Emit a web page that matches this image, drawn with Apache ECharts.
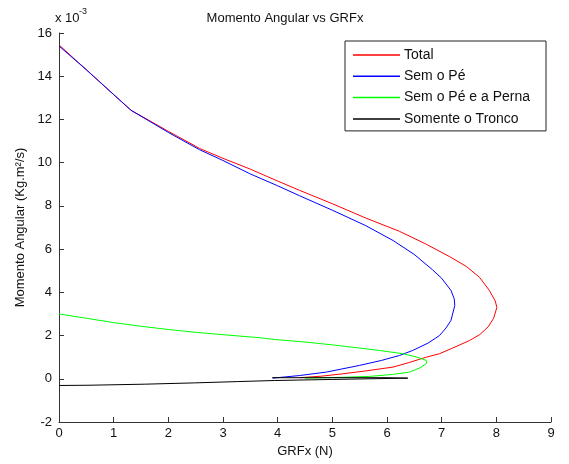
<!DOCTYPE html>
<html>
<head>
<meta charset="utf-8">
<script src="https://cdn.jsdelivr.net/npm/echarts@6/dist/echarts.min.js"></script>
<style>html,body{margin:0;padding:0;background:#fff}#c{width:569px;height:464px}</style>
</head>
<body>
<div id="c"></div>
<script>
// Data (y values in units of 1e-3 Kg.m^2/s)
var seriesNames = ['Total', 'Sem o Pé', 'Sem o Pé e a Perna', 'Somente o Tronco'];
var totalData = [[0,15.45],[0.5,14.3],[1.0,13.15],[1.32,12.42],[2.0,11.45],[2.57,10.66],[3.0,10.2],[3.5,9.7],[4.0,9.15],[4.4,8.72],[5.0,8.1],[5.6,7.45],[6.23,6.82],[6.7,6.25],[7.14,5.66],[7.45,5.2],[7.69,4.7],[7.87,4.1],[7.98,3.6],[8.01,3.3],[7.95,2.8],[7.85,2.4],[7.7,2.05],[7.51,1.77],[7.2,1.42],[6.96,1.16],[6.72,1.0],[6.4,0.75],[6.11,0.54],[5.6,0.36],[5.19,0.23],[4.8,0.12],[4.4,0.05]];
var semPeData = [[0,15.4],[0.5,14.3],[1.0,13.15],[1.32,12.42],[2.0,11.4],[2.57,10.6],[3.0,10.1],[3.49,9.49],[4.0,8.93],[4.4,8.47],[5.0,7.8],[5.6,7.1],[6.11,6.4],[6.5,5.75],[6.83,5.05],[7.0,4.65],[7.17,4.09],[7.23,3.7],[7.24,3.39],[7.2,3.0],[7.17,2.7],[7.08,2.35],[6.96,2.0],[6.75,1.65],[6.47,1.31],[6.23,1.08],[5.9,0.85],[5.5,0.62],[4.89,0.31],[4.4,0.15],[3.91,0.03]];
var semPePernaData = [[0,3.0],[0.5,2.8],[1,2.6],[1.5,2.43],[2,2.28],[2.5,2.15],[3,2.04],[3.67,1.9],[3.94,1.82],[4.5,1.7],[5,1.57],[5.5,1.42],[5.86,1.31],[6.29,1.16],[6.55,1.0],[6.72,0.85],[6.72,0.7],[6.6,0.5],[6.41,0.31],[6.1,0.2],[5.68,0.11],[5.2,0.07],[4.89,0.05],[4.5,0.03]];
var troncoData = [[0,-0.31],[0.53,-0.3],[0.55,-0.27],[1.57,-0.25],[1.6,-0.22],[2.48,-0.19],[2.5,-0.16],[3.27,-0.13],[3.3,-0.1],[3.94,-0.08],[5.0,-0.03],[6.38,0.03],[6.0,0.05],[3.9,0.05]];
var colors = ['#ff0000', '#0000ff', '#00ff00', '#000000'];
var xTicks = {min: 0, max: 9, interval: 1};
var yTicks = {min: -2, max: 16, interval: 2};

var FONT = "'Liberation Sans', Arial, sans-serif";
var chart = echarts.init(document.getElementById('c'), null, {renderer: 'canvas'});
var allData = [totalData, semPeData, semPePernaData, troncoData];
function axisStyle() {
  return {
    axisLine: {show: true, onZero: false, lineStyle: {color: '#333', width: 1}},
    axisTick: {show: true, inside: true, length: 5, lineStyle: {color: '#333'}},
    splitLine: {show: false},
    nameTextStyle: {color: '#111', fontSize: 13, fontFamily: FONT}
  };
}
chart.setOption({
  animation: false,
  backgroundColor: '#fff',
  title: {
    text: 'Momento Angular vs GRFx',
    left: 280, top: 7, textAlign: 'center',
    textStyle: {fontSize: 13, fontWeight: 'normal', color: '#111', fontFamily: FONT}
  },
  grid: {left: 59, right: 18, top: 33, bottom: 42, containLabel: false},
  legend: {
    data: seriesNames,
    orient: 'vertical',
    left: 345, top: 41,
    padding: [7, 8, 5, 8],
    icon: 'rect',
    itemWidth: 47, itemHeight: 1.5, itemGap: 7.3,
    borderColor: '#222', borderWidth: 1,
    backgroundColor: '#fff',
    textStyle: {fontSize: 14, color: '#111', fontFamily: FONT, padding: [0, 0, 0, -1], width: 134, height: 14, lineHeight: 14}
  },
  graphic: [
    {type: 'text', left: 55, top: 12, style: {text: 'x 10', fontSize: 13, fill: '#111', fontFamily: FONT}},
    {type: 'text', left: 79, top: 7, style: {text: '-3', fontSize: 9, fill: '#111', fontFamily: FONT}}
  ],
  xAxis: Object.assign({
    type: 'value', min: xTicks.min, max: xTicks.max, interval: xTicks.interval,
    name: 'GRFx (N)', nameLocation: 'middle', nameGap: 23,
    axisLabel: {margin: 5, fontSize: 13, color: '#111', fontFamily: FONT}
  }, axisStyle()),
  yAxis: Object.assign({
    type: 'value', min: yTicks.min, max: yTicks.max, interval: yTicks.interval,
    name: 'Momento Angular (Kg.m²/s)', nameLocation: 'middle', nameGap: 31,
    axisLabel: {margin: 7, fontSize: 13, color: '#111', fontFamily: FONT}
  }, axisStyle()),
  series: seriesNames.map(function (n, i) {
    return {
      name: n, type: 'line', data: allData[i], symbol: 'none', smooth: false,
      color: colors[i],
      itemStyle: {color: colors[i]},
      lineStyle: {color: colors[i], width: 1},
      z: 2 + i
    };
  })
});
</script>
</body>
</html>
